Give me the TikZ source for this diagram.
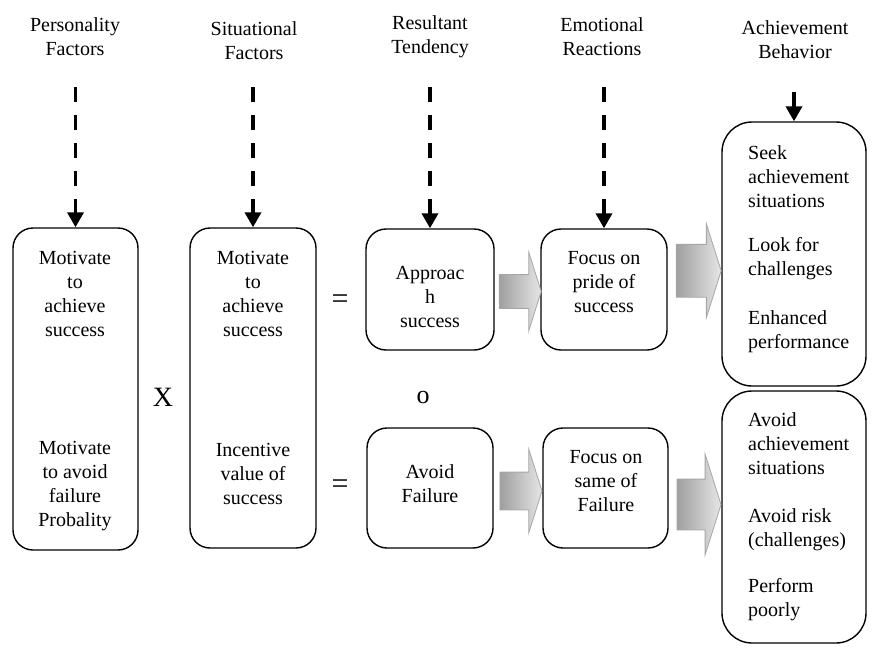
\documentclass[tikz,border=0pt]{standalone}
\usepackage{fontspec}
\setmainfont{Liberation Serif}
\usetikzlibrary{arrows.meta,shapes.arrows,calc}

\begin{document}
\begin{tikzpicture}[x=1pt,y=-1pt,
  font=\fontsize{20}{24}\selectfont,
  box/.style={draw, line width=1.4pt, rounded corners=20pt, inner sep=0pt},
  bigbox/.style={box, rounded corners=30pt},
  txt/.style={align=center, inner sep=0pt},
  ltxt/.style={align=left, anchor=west, inner sep=0pt},
  dasharrow/.style={line width=3.5pt, dash pattern=on 15pt off 13pt,
    -{Triangle[width=16pt,length=15pt]}},
  solidarrow/.style={line width=3.5pt, -{Triangle[width=16pt,length=15pt]}},
  fatarrow/.style={single arrow, draw=gray!70, line width=0.8pt,
    left color=gray!75, right color=gray!20, inner sep=0pt,
    single arrow tip angle=145}]

\useasboundingbox (0,0) rectangle (872,648);

% --- Column headings ---
\node[txt] (hpers) at (75,37) {Personality\\Factors};
\node[txt] (hsit) at (254,41) {Situational\\Factors};
\node[txt] (hres) at (430,37) {Resultant\\Tendency};
\node[txt] (hemo) at (602,37) {Emotional\\Reactions};
\node[txt] (hach) at (795,40) {Achievement\\Behavior};

% --- Boxes ---
\node[box, minimum width=125, minimum height=322] (pers) at (75.5,389) {};
\node[box, minimum width=126, minimum height=320] (sit) at (253,388) {};
\node[box, minimum width=128, minimum height=121] (appr) at (430,289.5) {};
\node[box, minimum width=126, minimum height=121] (pride) at (604,289.5) {};
\node[box, minimum width=126, minimum height=120] (avoid) at (430,488) {};
\node[box, minimum width=125, minimum height=120] (shame) at (605.5,488) {};
\node[bigbox, minimum width=144, minimum height=264] (seek) at (794,254) {};
\node[bigbox, minimum width=144, minimum height=252] (shun) at (794,517) {};

% --- Box texts ---
\node[txt] (pers1) at (75,294) {Motivate\\to\\achieve\\success};
\node[txt] (pers2) at (75,486) {Motivate\\to avoid\\failure\\Probality};
\node[txt] (sit1) at (253,294) {Motivate\\to\\achieve\\success};
\node[txt] (sit2) at (253,474) {Incentive\\value of\\success};
\node[txt] (appr1) at (430,297) {Approac\\h\\success};
\node[txt] (pride1) at (604,282) {Focus on\\pride of\\success};
\node[txt] (avoid1) at (430,484) {Avoid\\Failure};
\node[txt] (shame1) at (606,481) {Focus on\\same of\\Failure};

\node[ltxt] (seek1) at (748,177) {Seek\\achievement\\situations};
\node[ltxt] (seek2) at (748,259) {Look for\\challenges};
\node[ltxt] (seek3) at (748,332) {Enhanced\\performance};
\node[ltxt] (shun1) at (748,444) {Avoid\\achievement\\situations};
\node[ltxt] (shun2) at (748,530) {Avoid risk\\(challenges)};
\node[ltxt] (shun3) at (748,600) {Perform\\poorly};

% --- Operators ---
\node[inner sep=0pt, font=\fontsize{28}{30}\selectfont] (times) at (163,397) {X};
\node[inner sep=0pt, font=\fontsize{30}{32}\selectfont] (eq1) at (340,302) {=};
\node[inner sep=0pt, font=\fontsize{30}{32}\selectfont] (eq2) at (340,487) {=};
\node[inner sep=0pt, font=\fontsize{26}{28}\selectfont] (or) at (423,397) {o};

% --- Heading arrows ---
\coordinate (s1) at (75.5,87);
\coordinate (s2) at (253,87);
\coordinate (s3) at (430,87);
\coordinate (s4) at (604,87);
\coordinate (s5) at (794,92);
\draw[dasharrow] (s1) -- (pers.north);
\draw[dasharrow] (s2) -- (sit.north);
\draw[dasharrow] (s3) -- (appr.north);
\draw[dasharrow] (s4) -- (pride.north);
\draw[solidarrow] (s5) -- (seek.north);

% --- Block arrows ---
\node[fatarrow, minimum height=42, inner ysep=16.5, single arrow head extend=22.5]
  (ar1) at ($(appr.east)!0.5!(pride.west)+(0,2)$) {};
\node[fatarrow, minimum height=45, inner ysep=26, single arrow head extend=20.5]
  (ar2) at ($(pride.east)!0.5!(seek.west)+(0,-1)$) {};
\node[fatarrow, minimum height=42, inner ysep=18.5, single arrow head extend=23]
  (ar3) at ($(avoid.east)!0.5!(shame.west)+(0,3)$) {};
\node[fatarrow, minimum height=44, inner ysep=25, single arrow head extend=25]
  (ar4) at ($(shame.east)!0.5!(shun.west)+(0,2)$) {};

\end{tikzpicture}
\end{document}
